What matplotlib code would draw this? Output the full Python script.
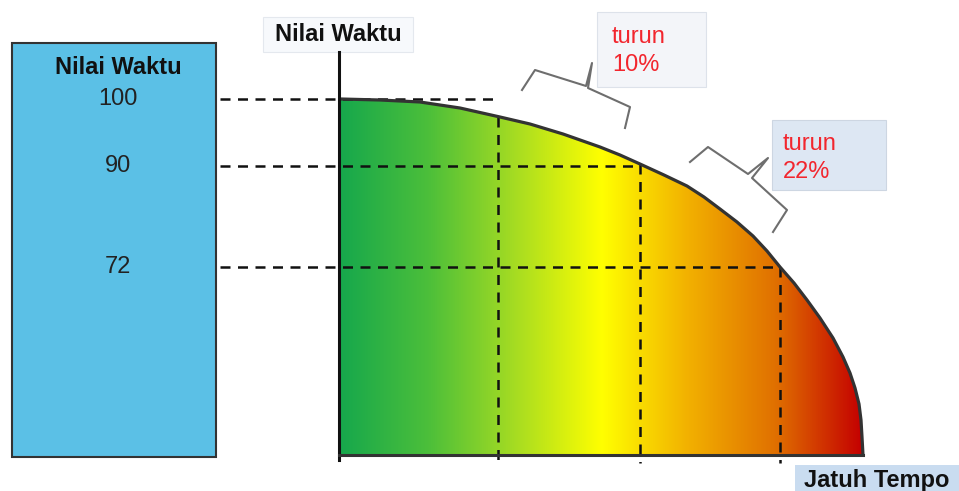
import matplotlib.pyplot as plt
import numpy as np
from matplotlib.patches import Rectangle, Polygon
from matplotlib.colors import LinearSegmentedColormap

plt.rcParams['font.family'] = ['Liberation Sans', 'DejaVu Sans']

# diagram is drawn in picture units (x right, y down)
curve_x = [341, 380, 420, 460, 500, 530, 563, 600, 620, 640, 664, 687, 704, 720, 737,
           753, 767, 780, 794, 807, 820, 833, 843, 850, 855, 859, 861, 862, 863]
curve_y = [99, 100, 102, 108, 117, 124, 134, 147, 155, 164, 175, 186, 197, 209, 222,
           236, 251, 267, 283, 300, 318, 338, 357, 373, 388, 404, 420, 437, 455]
base_y = 455

nilai_labels = ["100", "90", "72"]
nilai_y = [99, 166, 267]
nilai_end = [500, 640, 780]       # where each dashed level line stops
tempo_x = [498, 640, 780]         # dashed verticals
tempo_top = [117, 164, 267]

turun_text = ["turun\n10%", "turun\n22%"]

grad_colors = ["#17a84c", "#4cbf3a", "#a6dc22", "#ffff00", "#f2b000", "#e07000", "#c40000"]

fig = plt.figure(figsize=(9.59, 4.91), dpi=100)
ax = fig.add_axes([0, 0, 1, 1])
ax.set_xlim(0, 959)
ax.set_ylim(491, 0)
ax.axis('off')

# left value box
ax.add_patch(Rectangle((12, 43), 204, 414, fc="#5bc0e6", ec="#333333", lw=1.5, zorder=2))
ax.text(118, 67, "Nilai Waktu", ha="center", va="center", fontsize=17, fontweight="bold", color="#111111")
for lab, y in zip(nilai_labels, nilai_y):
    ax.text(118, y, lab, ha="center", va="center", fontsize=17, color="#222222")

# gradient area under curve
cmap = LinearSegmentedColormap.from_list("g", grad_colors)
grad = np.linspace(0, 1, 256).reshape(1, -1)
img = ax.imshow(grad, cmap=cmap, aspect="auto", extent=[341, 863, base_y, 99], zorder=1)
poly = Polygon(list(zip(curve_x, curve_y)) + [(863, base_y), (341, base_y)], closed=True,
               fc="none", ec="none", transform=ax.transData)
ax.add_patch(poly)
img.set_clip_path(poly)
ax.plot(curve_x, curve_y, color="#333333", lw=2.3, zorder=4, solid_joinstyle="round")
ax.set_xlim(0, 959)
ax.set_ylim(491, 0)

# dashed guide lines
for y, xe in zip(nilai_y, nilai_end):
    ax.plot([220, xe], [y, y], color="#111111", lw=1.8, ls=(0, (4, 3)), zorder=3)
for x, yt in zip(tempo_x, tempo_top):
    ax.plot([x, x], [yt, 463], color="#111111", lw=1.8, ls=(0, (4, 3)), zorder=3)

# axes
ax.plot([339, 339], [52, 460], color="#111111", lw=2.2, zorder=5)
ax.plot([339, 863], [base_y, base_y], color="#333333", lw=2.2, zorder=5)

# axis labels
ax.add_patch(Rectangle((263, 17), 150, 35, fc="#f7f9fc", ec="#e4e8ee", lw=0.8))
ax.text(338, 34, "Nilai Waktu", ha="center", va="center", fontsize=17, fontweight="bold", color="#111111")
ax.add_patch(Rectangle((795, 465), 170, 30, fc="#c9dcf0", ec="none"))
ax.text(877, 481, "Jatuh Tempo", ha="center", va="center", fontsize=17, fontweight="bold", color="#111111")

# brackets
br1 = [(522, 90), (535, 70), (586, 86), (592, 63), (588, 88), (630, 107), (625, 128)]
br2 = [(690, 162), (708, 147), (748, 174), (768, 158), (752, 178), (787, 210), (773, 232)]
for br in (br1, br2):
    bx, by = zip(*br)
    ax.plot(bx, by, color="#6e6e6e", lw=1.5, zorder=3)

# callout boxes
ax.add_patch(Rectangle((597, 12), 109, 75, fc="#f3f5f9", ec="#dde2ea", lw=0.8))
ax.add_patch(Rectangle((772, 120), 114, 70, fc="#dde7f3", ec="#cdd6e2", lw=0.8))
ax.text(612, 51, turun_text[0], ha="left", va="center", fontsize=17, color="#f2262e", linespacing=1.35)
ax.text(783, 158, turun_text[1], ha="left", va="center", fontsize=17, color="#f2262e", linespacing=1.35)

fig.savefig("out.png", dpi=100)
